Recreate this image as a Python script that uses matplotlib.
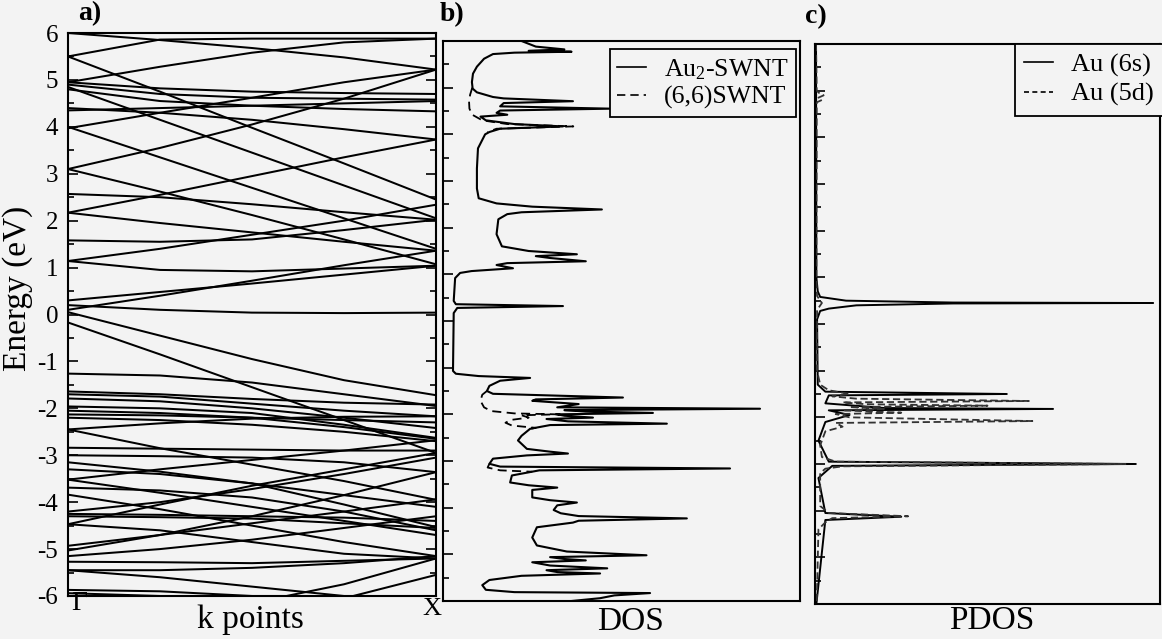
import matplotlib
matplotlib.use("Agg")
import matplotlib.pyplot as plt
from matplotlib.lines import Line2D

plt.rcParams['font.family'] = ['Liberation Serif', 'DejaVu Serif']
plt.rcParams['axes.unicode_minus'] = False
plt.rcParams['mathtext.fontset'] = 'custom'
plt.rcParams['mathtext.rm'] = 'Liberation Serif'
plt.rcParams['mathtext.it'] = 'Liberation Serif:italic'

# ---- a) band structure: energies (eV) at k = Gamma, 1/4, 1/2, 3/4, X
band_k = [0.0, 0.25, 0.5, 0.75, 1.0]
bands_upper = [
    [6.00, 5.85, 5.68, 5.48, 5.22],
    [5.50, 5.86, 5.88, 5.88, 5.88],
    [5.50, 4.75, 3.98, 3.22, 2.45],
    [4.95, 5.28, 5.58, 5.80, 5.88],
    [4.95, 4.82, 4.75, 4.72, 4.70],
    [4.90, 4.70, 4.62, 4.60, 4.58],
    [4.85, 4.15, 3.45, 2.75, 2.05],
    [4.80, 4.55, 4.45, 4.38, 4.33],
    [4.40, 4.30, 4.15, 3.95, 3.73],
    [4.35, 4.40, 4.45, 4.50, 4.55],
    [3.97, 4.30, 4.62, 4.95, 5.22],
    [4.00, 3.35, 2.70, 2.05, 1.40],
    [3.10, 2.62, 2.12, 1.60, 1.07],
    [3.10, 3.55, 4.05, 4.60, 5.22],
    [2.57, 2.50, 2.35, 2.18, 2.02],
    [2.17, 2.55, 2.95, 3.35, 3.73],
    [2.17, 1.95, 1.75, 1.55, 1.36],
    [1.58, 1.55, 1.60, 1.80, 2.02],
    [1.14, 1.40, 1.70, 2.00, 2.34],
    [1.14, 0.95, 0.92, 0.98, 1.04],
    [0.30, 0.48, 0.66, 0.85, 1.04],
    [0.10, 0.40, 0.72, 1.05, 1.36],
    [0.20, 0.10, 0.04, 0.03, 0.04],
]
bands_lower = [
    [0.05, -0.45, -0.95, -1.40, -1.72],
    [-0.17, -0.85, -1.55, -2.25, -2.95],
    [-1.26, -1.30, -1.45, -1.70, -1.95],
    [-1.64, -1.70, -1.80, -1.88, -1.92],
    [-1.70, -1.75, -1.90, -2.05, -2.17],
    [-1.79, -1.85, -2.00, -2.20, -2.42],
    [-1.96, -2.00, -2.10, -2.35, -2.63],
    [-2.05, -2.10, -2.20, -2.40, -2.65],
    [-2.13, -2.15, -2.20, -2.25, -2.30],
    [-2.20, -2.25, -2.35, -2.50, -2.70],
    [-2.45, -2.32, -2.22, -2.18, -2.17],
    [-2.45, -2.85, -3.20, -3.55, -3.95],
    [-2.84, -2.86, -2.88, -2.90, -2.90],
    [-3.00, -3.02, -3.05, -3.15, -3.36],
    [-3.15, -3.35, -3.60, -3.85, -4.10],
    [-3.30, -3.40, -3.60, -4.05, -4.53],
    [-3.52, -3.30, -3.10, -2.90, -2.68],
    [-3.52, -3.80, -4.10, -4.40, -4.70],
    [-3.69, -3.75, -3.90, -4.20, -4.60],
    [-3.84, -4.15, -4.50, -4.85, -5.15],
    [-4.20, -4.00, -3.72, -3.40, -3.05],
    [-4.25, -4.27, -4.30, -4.33, -4.40],
    [-4.30, -4.32, -4.35, -4.45, -4.55],
    [-4.47, -4.05, -3.65, -3.30, -2.95],
    [-4.47, -4.60, -4.85, -5.10, -5.20],
    [-4.93, -4.70, -4.45, -4.20, -3.94],
    [-5.03, -4.70, -4.30, -3.85, -3.36],
    [-5.15, -5.00, -4.80, -4.55, -4.30],
    [-5.27, -5.28, -5.30, -5.25, -5.20],
    [-5.45, -5.45, -5.40, -5.30, -5.15],
    [-5.45, -5.60, -5.80, -6.00, -6.20],
    [-5.87, -5.90, -6.00, -6.10, -6.20],
    [-5.94, -6.00, -6.05, -6.10, -6.15],
    [-6.40, -6.30, -6.15, -5.75, -5.20],
    [-6.40, -6.40, -6.30, -6.05, -5.55],
]

# ---- b) total DOS (arb. units 0-100) vs energy
dos_energy = [6.00, 5.88, 5.82, 5.79, 5.77, 5.75, 5.72, 5.62, 5.45, 5.30, 5.12, 4.98,
              4.90, 4.80, 4.77, 4.71, 4.67, 4.60, 4.55, 4.51, 4.46, 4.42, 4.38, 4.30,
              4.22, 4.17, 4.12, 4.05, 4.00, 3.70, 3.27, 2.84, 2.63, 2.52, 2.45, 2.39,
              2.33, 2.29, 2.18, 1.86, 1.60, 1.50, 1.43, 1.39, 1.35, 1.28, 1.24, 1.20,
              1.13, 1.07, 1.03, 0.92, 0.43, 0.36, 0.32, 0.28, 0.17, -1.07, -1.13, -1.18,
              -1.22, -1.28, -1.39, -1.50, -1.56, -1.64, -1.68, -1.71, -1.78, -1.85, -1.88,
              -1.91, -1.94, -1.97, -2.00, -2.03, -2.07, -2.10, -2.15, -2.20, -2.23, -2.31,
              -2.46, -2.56, -2.74, -2.80, -2.84, -2.88, -2.95, -3.06, -3.12, -3.16, -3.20,
              -3.31, -3.46, -3.52, -3.57, -3.62, -3.68, -3.78, -3.84, -3.89, -3.95, -4.05,
              -4.12, -4.18, -4.23, -4.28, -4.32, -4.42, -4.64, -4.81, -4.94, -5.02, -5.06,
              -5.10, -5.13, -5.17, -5.24, -5.30, -5.34, -5.38, -5.41, -5.46, -5.55, -5.66,
              -5.76, -5.81, -5.83, -5.88, -5.94, -6.00]
dos_au2_swnt = [22, 26, 34, 24, 36, 20, 14, 11.5, 9.5, 8.4, 8.1, 8.3,
                9.5, 14, 17, 36.4, 17, 16, 47, 16, 15, 18, 10.5, 12,
                20, 33.6, 16, 13, 11.8, 9.8, 9.5, 9.5, 10, 15, 25, 44.5,
                22, 18, 15.5, 15, 16.5, 24, 37.5, 26, 30, 40, 18, 15,
                19.6, 8, 4.8, 3.4, 3.0, 3.6, 33.6, 4, 3.0, 2.8, 3.6, 10,
                24.4, 16, 13, 12.3, 14, 50.4, 26, 25, 38, 32, 88.8,
                34, 40, 58.8, 32, 34, 42, 29, 35, 62.7, 30, 24.4,
                22, 21, 23.5, 30, 35, 23.5, 14, 13, 16, 80.4, 27,
                19.3, 18.8, 24, 32, 25, 25, 25, 30, 37.5, 32, 31,
                33, 38, 68.3, 38, 36.4, 26.3, 25, 26.3, 34.7, 57, 30,
                34, 40, 25, 30, 46, 29, 32, 44, 22, 13, 11,
                12, 20, 58, 48, 44, 36]
# pristine (6,6) SWNT: only where it departs from the Au2-SWNT curve
swnt_E1 = [5.00, 4.85, 4.70, 4.55, 4.42, 4.30, 4.22, 4.17, 4.12, 4.05]
swnt_D1 = [8.2, 7.6, 7.3, 7.4, 8.2, 11, 18, 36.5, 15, 12.5]
swnt_E2 = [-1.50, -1.58, -1.71, -1.85, -1.93, -1.98, -2.00, -2.02, -2.07, -2.12,
           -2.18, -2.24, -2.29, -2.31]
swnt_D2 = [12.3, 11, 10.5, 11.5, 13.5, 20, 32, 22, 24, 19, 17.5, 19.3, 26, 24.4]
swnt_E3 = [-3.06, -3.14, -3.20, -3.23]
swnt_D3 = [13, 12.5, 16, 25]

# ---- c) projected DOS on Au
pdos_6s_E = [6.00, 1.00, 0.70, 0.58, 0.50, 0.46, 0.45, 0.44, 0.40, 0.33, 0.28, 0.10,
             -1.30, -1.45, -1.50, -1.53, -1.70, -1.80, -1.82, -1.85, -1.95, -2.10,
             -2.50, -2.95, -3.00, -3.04, -3.30, -4.05, -4.13, -4.20, -6.00]
pdos_6s = [0.3, 0.4, 0.8, 1.5, 9, 40, 98, 40, 12, 4, 1.5, 0.6,
           0.8, 3, 55.6, 4, 3, 20, 69, 4, 10, 3,
           1, 4, 93, 5, 1, 3, 25, 3, 0.4]
pdos_5d_E = [6.00, 5.00, 4.95, 4.90, 4.85, 4.80, 4.75, 1.00, 0.60, 0.45, 0.30,
             -1.00, -1.30, -1.42, -1.50, -1.55, -1.60, -1.65, -1.68, -1.72, -1.75,
             -1.78, -1.82, -1.85, -1.90, -1.93, -2.00, -2.08, -2.12, -2.20, -2.30,
             -2.60, -2.85, -2.95, -3.00, -3.05, -3.10, -3.20, -3.90, -4.05, -4.12,
             -4.16, -4.25, -4.40, -6.00]
pdos_5d = [0.3, 0.5, 1.2, 2.5, 1.0, 2.0, 0.5, 0.4, 0.6, 2.0, 0.6,
           0.6, 1.5, 4, 10, 5, 12, 62, 8, 15, 50,
           10, 20, 8, 25, 6, 10, 63, 6, 8, 3,
           1.5, 2, 6, 90, 8, 3, 1.5, 1.5, 4, 27,
           5, 3, 1, 0.5]

bg = '#f3f3f3'
fig = plt.figure(figsize=(11.62, 6.39), dpi=100, facecolor=bg)

W, H = 1162.0, 639.0


def axes_px(left, top, right, bottom):
    return fig.add_axes([left / W, 1 - bottom / H, (right - left) / W, (bottom - top) / H],
                        facecolor=bg)


def style(ax, labels=False, right=False):
    ax.set_ylim(-6, 6)
    ax.set_yticks(range(-6, 7))
    ax.set_yticks([v + 0.5 for v in range(-6, 6)], minor=True)
    ax.tick_params(axis='y', which='both', direction='in', left=True, right=right,
                   width=1.2, labelsize=18, pad=7)
    ax.tick_params(axis='y', which='major', length=7)
    ax.tick_params(axis='y', which='minor', length=4)
    ax.set_xticks([])
    if labels:
        ax.set_yticklabels([str(v) for v in range(-6, 7)])
    else:
        ax.set_yticklabels([])
    for s in ax.spines.values():
        s.set_linewidth(1.5)


# a) band structure
ax_a = axes_px(68, 33, 436, 596)
for b in bands_upper + bands_lower:
    ax_a.plot(band_k, b, color='black', lw=1.45)
ax_a.set_xlim(0, 1)
style(ax_a, labels=True, right=True)

# b) DOS
ax_b = axes_px(443, 41, 800, 601)
ax_b.plot(dos_au2_swnt, dos_energy, color='black', lw=1.5)
for d, e in [(swnt_D1, swnt_E1), (swnt_D2, swnt_E2), (swnt_D3, swnt_E3)]:
    ax_b.plot(d, e, color='black', lw=1.3, dashes=(5, 3))
ax_b.set_xlim(0, 100)
style(ax_b)
h_b = [Line2D([], [], color='black', lw=1.2),
       Line2D([], [], color='black', lw=1.2, dashes=(5, 3))]
leg_b = ax_b.legend(h_b, ['Au$_2$-SWNT', '(6,6)SWNT'], loc='upper right',
                    bbox_to_anchor=(0.988, 0.985), fontsize=18.5, frameon=True,
                    fancybox=False, edgecolor='black', framealpha=1,
                    handlelength=1.1, handletextpad=0.7, borderpad=0.3,
                    labelspacing=0.15, borderaxespad=0)
leg_b.get_frame().set_facecolor(bg)
leg_b.get_frame().set_linewidth(1.3)

# c) PDOS
ax_c = axes_px(815, 44, 1160, 604)
ax_c.plot(pdos_6s, pdos_6s_E, color='black', lw=1.4)
ax_c.plot(pdos_5d, pdos_5d_E, color='#333333', lw=1.3, dashes=(4, 2))
ax_c.set_xlim(0, 100)
style(ax_c)
h_c = [Line2D([], [], color='black', lw=1.2),
       Line2D([], [], color='black', lw=1.2, dashes=(3, 2))]
leg_c = ax_c.legend(h_c, ['Au (6s)', 'Au (5d)'], loc='upper right',
                    bbox_to_anchor=(1.01, 1.0), fontsize=19, frameon=True,
                    fancybox=False, edgecolor='black', framealpha=1,
                    handlelength=1.1, handletextpad=0.7, borderpad=0.35,
                    labelspacing=0.2, borderaxespad=0)
leg_c.get_frame().set_facecolor(bg)
leg_c.get_frame().set_linewidth(1.3)


# labels
def ftext(x, y, s, **kw):
    fig.text(x / W, 1 - y / H, s, ha='center', va='center', **kw)


ftext(90, 14, 'a)', fontsize=20, fontweight='bold')
ftext(452, 15, 'b)', fontsize=20, fontweight='bold')
ftext(816, 17, 'c)', fontsize=20, fontweight='bold')
ftext(18, 288, 'Energy (eV)', fontsize=24, rotation=90)
ftext(250, 620, 'k points', fontsize=24)
ftext(79, 604, 'Γ', fontsize=20)
ftext(432, 609, 'X', fontsize=19)
ftext(630, 622, 'DOS', fontsize=24)
ftext(992, 621, 'PDOS', fontsize=24)

fig.savefig('out.png', dpi=100, facecolor=bg)
